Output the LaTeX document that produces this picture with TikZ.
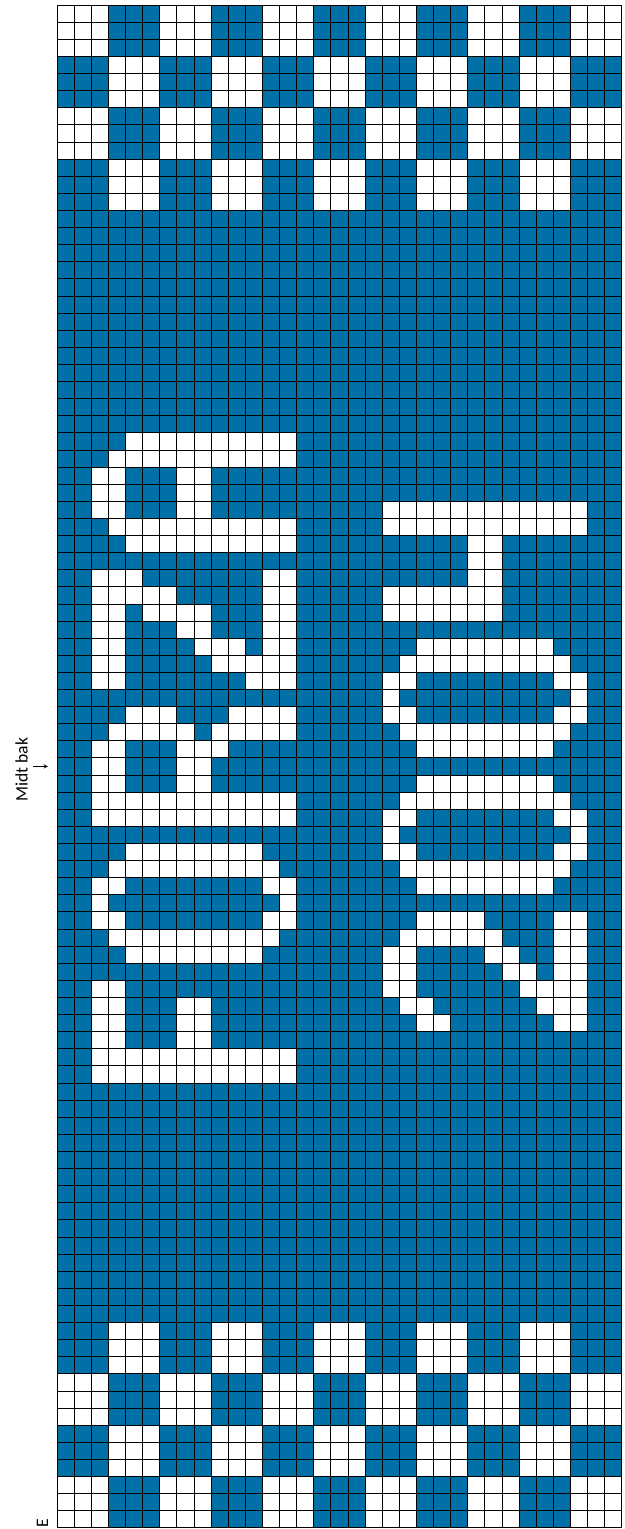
\documentclass[tikz,border=0pt]{standalone}
\usepackage{fontspec}
\setmainfont{Carlito}
\usetikzlibrary{arrows}
\definecolor{KnitClr}{RGB}{0,112,166}
\tikzset{
  gridln/.style={line width=0.6pt,black},
  cellw/.style={fill=white},
  lbl/.style={rotate=90,inner sep=0pt,font=\fontsize{14.6}{17}\selectfont}
}

\begin{document}
\begin{tikzpicture}[x=0.5cm,y=-0.5cm]
\useasboundingbox (-3.331,-0.292) rectangle (33.14,89.07);

\fill[KnitClr] (0,0) rectangle (33,89);

% checks top and bottom
\foreach \b in {0,...,3}{
  \foreach \k in {0,...,10}{
    \pgfmathtruncatemacro\odd{mod(\b+\k,2)}
    \ifnum\odd=0
      \fill[cellw] (3*\k,3*\b) rectangle ++(3,3);
      \fill[cellw] (3*\k,89-3*\b) rectangle ++(3,-3);
    \fi
  }
}

% letters, row/first/last
\foreach \r/\a/\e in {25/4/13,26/3/13,27/2/3,27/7/8,28/2/3,28/7/8,29/2/3,29/7/8,
  30/3/13,31/4/13,33/2/4,33/12/13,34/2/6,34/12/13,35/2/3,35/5/8,35/12/13,
  36/2/3,36/7/8,36/12/13,37/2/3,37/8/10,37/12/13,38/2/3,38/9/13,39/2/3,39/11/13,
  41/4/6,41/10/13,42/3/7,42/9/13,43/2/3,43/7/9,44/2/3,44/7/8,45/2/3,45/7/8,
  46/2/13,47/2/13,49/4/11,50/3/12,51/2/3,51/12/13,52/2/2,52/13/13,53/2/3,53/12/13,
  54/3/12,55/4/11,57/2/3,58/2/3,58/7/8,59/2/3,59/7/8,60/2/3,60/7/8,61/2/13,62/2/13}
  \fill[cellw] (\a,\r) rectangle (\e+1,\r+1);

\foreach \r/\a/\e in {29/19/30,30/19/30,31/24/25,32/24/25,33/24/25,34/19/25,35/19/25,
  37/21/28,38/20/29,39/19/20,39/29/30,40/19/19,40/30/30,41/19/20,41/29/30,
  42/20/29,43/21/28,45/21/28,46/20/29,47/19/20,47/29/30,48/19/19,48/30/30,
  49/19/20,49/29/30,50/20/29,51/21/28,53/21/24,53/29/30,54/20/25,54/29/30,
  55/19/20,55/25/26,55/29/30,56/19/20,56/26/27,56/29/30,57/19/20,57/27/30,
  58/20/21,58/28/30,59/21/22,59/29/30}
  \fill[cellw] (\a,\r) rectangle (\e+1,\r+1);

% grid
\foreach \c in {0,...,33}
  \draw[gridln] (\c,0) -- (\c,89);
\foreach \r in {0,...,89}
  \draw[gridln] (0,\r) -- (33,\r);

\node[lbl] (midt) at (-2.07,44.7) {Midt bak};
\coordinate (pilA) at (-1.40,44.5);
\coordinate (pilB) at (-0.53,44.5);
\draw[->,>=stealth,line width=0.6pt] (pilA) -- (pilB);
\node[lbl] (kant) at (-0.85,88.75) {E};

\end{tikzpicture}
\end{document}
